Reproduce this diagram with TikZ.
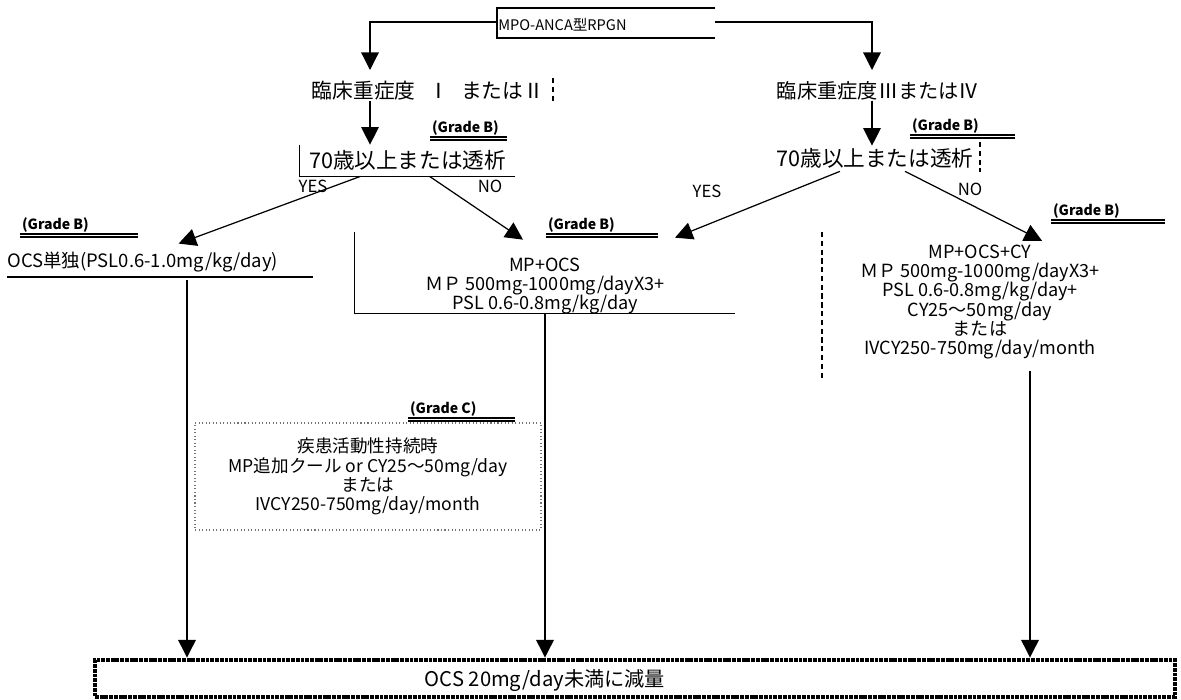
\documentclass[tikz,border=0pt]{standalone}
\usepackage{fontspec}
\setmainfont{Noto Sans CJK JP}
\usetikzlibrary{arrows.meta,calc}
\tikzset{
  px/.style={x=0.02cm,y=-0.02cm},
  big/.style={font=\fontsize{12.3}{14}\selectfont, inner sep=0pt},
  mid/.style={font=\fontsize{10.5}{12}\selectfont, inner sep=0pt},
  med/.style={font=\fontsize{10.3}{10.9}\selectfont, align=center, inner sep=0pt},
  grade/.style={font=\bfseries\fontsize{8}{9}\selectfont, inner sep=1pt},
  yn/.style={font=\fontsize{9.5}{10}\selectfont, inner sep=0pt},
  ln/.style={line width=0.7pt},
  ul/.style={line width=0.6pt},
  arr/.style={line width=0.7pt, -{Triangle[length=10pt,width=10pt]}},
  dbar/.style={line width=0.6pt, densely dashed},
  dotbox/.style={draw=black!55, line width=0.8pt, dash pattern=on 0.6pt off 1.4pt},
  tex/.style={draw, line width=2.8pt, dash pattern=on 2.2pt off 0.5pt},
  texw/.style={draw=white, line width=0.7pt, dash pattern=on 0.5pt off 1.6pt},
}
\begin{document}
\begin{tikzpicture}[px]
\useasboundingbox (0,0) rectangle (1181,700);
% top
\node[anchor=west, inner sep=0pt, font=\fontsize{8.3}{10}\selectfont] (top) at (498,25) {MPO-ANCA型RPGN};
\draw[ln] (715,8) -- (497,8) -- (497,38) -- (715,38);
\coordinate (L1) at (370,70);
\coordinate (R1) at (872,70);
\coordinate (topR) at (715,22);
\draw[arr] (top.west |- 0,22) -| (L1);
\draw[arr] (topR) -| (R1);
% severity
\node[big, font=\fontsize{11.8}{14}\selectfont] (sev1) at (428,91) {臨床重症度\hspace{0.6em}Ⅰ\hspace{0.6em}またはⅡ};
\draw[dbar] (553,78) -- (553,102);
\node[big, font=\fontsize{11.5}{14}\selectfont] (sev2) at (878,91) {臨床重症度ⅢまたはⅣ};
% age boxes
\node[big, minimum width=215*0.02cm, minimum height=31*0.02cm] (age1) at (407.5,160.5) {70歳以上または透析};
\draw[ln] (age1.north west) -- (age1.south west) -- (age1.south east);
\node[big] (age2) at (875,158) {70歳以上または透析};
\draw[dbar] (980,142) -- (980,172);
\draw[arr] (sev1.south -| L1) -- (age1.north -| L1);
\draw[arr] (sev2.south -| R1) -- ($(age2.north -| R1)+(0,-2)$);
% grade labels
\node[grade, anchor=south west] (g1) at (430,137) {(Grade B)};
\draw[ul] (g1.south west) -- ++(77,0); \draw[ul] ($(g1.south west)+(0,3)$) -- ++(77,0);
\node[grade, anchor=south west] (g2) at (910,135) {(Grade B)};
\draw[ul] (g2.south west) -- ++(105,0); \draw[ul] ($(g2.south west)+(0,3)$) -- ++(105,0);
\node[grade, anchor=south west] (g3) at (20,234) {(Grade B)};
\draw[ul] (g3.south west) -- ++(118,0); \draw[ul] ($(g3.south west)+(0,3)$) -- ++(118,0);
\node[grade, anchor=south west] (g4) at (546,234) {(Grade B)};
\draw[ul] (g4.south west) -- ++(112,0); \draw[ul] ($(g4.south west)+(0,3)$) -- ++(112,0);
\node[grade, anchor=south west] (g5) at (1051,220) {(Grade B)};
\draw[ul] (g5.south west) -- ++(114,0); \draw[ul] ($(g5.south west)+(0,3)$) -- ++(114,0);
\node[grade, anchor=south west] (g6) at (408,418) {(Grade C)};
\draw[ul] (g6.south west) -- ++(107,0); \draw[ul] ($(g6.south west)+(0,3)$) -- ++(107,0);
% yes / no
\node[yn] (y1) at (313,186) {YES};
\node[yn] (n1) at (490,186) {NO};
\node[yn] (y2) at (707,191) {YES};
\node[yn] (n2) at (970,189) {NO};
% treatment nodes
\node[mid, anchor=west] (ocs) at (7,262) {OCS単独(PSL0.6-1.0mg/kg/day)};
\draw[ln] (7,277) -- (313,277);
\node[med, minimum width=380*0.02cm, minimum height=81*0.02cm, text depth=0pt] (mpocs) at (545,272.5)
  {\raisebox{-1.5pt}{\parbox{7cm}{\centering MP+OCS\\ＭＰ 500mg-1000mg/dayX3+\\PSL 0.6-0.8mg/kg/day}}};
\draw[ln] (mpocs.north west) -- (mpocs.south west) -- (mpocs.south east);
\node[med] (mpcy) at (980,302) {MP+OCS+CY\\ＭＰ 500mg-1000mg/dayX3+\\PSL 0.6-0.8mg/kg/day+\\CY25～50mg/day\\または\\IVCY250-750mg/day/month};
\draw[dbar] (822,232) -- (822,380);
% diagonal arrows
\draw[arr] ($(age1.south)+(-47,0)$) -- ($(ocs.north)+(36,-8)$);
\draw[arr] ($(age1.south)+(22,0)$) -- ($(mpocs.north)+(-22,8)$);
\draw[arr] ($(age2.south)+(-35,3)$) -- ($(mpocs.north)+(130,6)$);
\draw[arr] ($(age2.south)+(30,3)$) -- ($(mpcy.north)+(62,-4)$);
% grade C box
\node[med, font=\fontsize{10}{10.9}\selectfont, minimum width=346*0.02cm, minimum height=107*0.02cm, dotbox] (gc) at (368,476.5)
  {疾患活動性持続時\\MP追加クール or CY25～50mg/day\\または\\IVCY250-750mg/day/month};
% final box
\node[minimum width=1080*0.02cm, minimum height=37*0.02cm, tex] (final) at (635,678.5) {};
\draw[texw] (final.north west) rectangle (final.south east);
\node[font=\fontsize{11.5}{12}\selectfont, inner sep=0pt] (ftxt) at (545,681) {OCS 20mg/day未満に減量};
% down arrows
\coordinate (c1) at (187,0);
\coordinate (c3) at (1030,0);
\draw[arr] (ocs.south -| c1) ++(0,8) -- (final.north -| c1);
\draw[arr] (mpocs.south) -- (final.north -| mpocs.south);
\draw[arr] ($(mpcy.south -| c3)+(0,12)$) -- (final.north -| c3);
\end{tikzpicture}
\end{document}
